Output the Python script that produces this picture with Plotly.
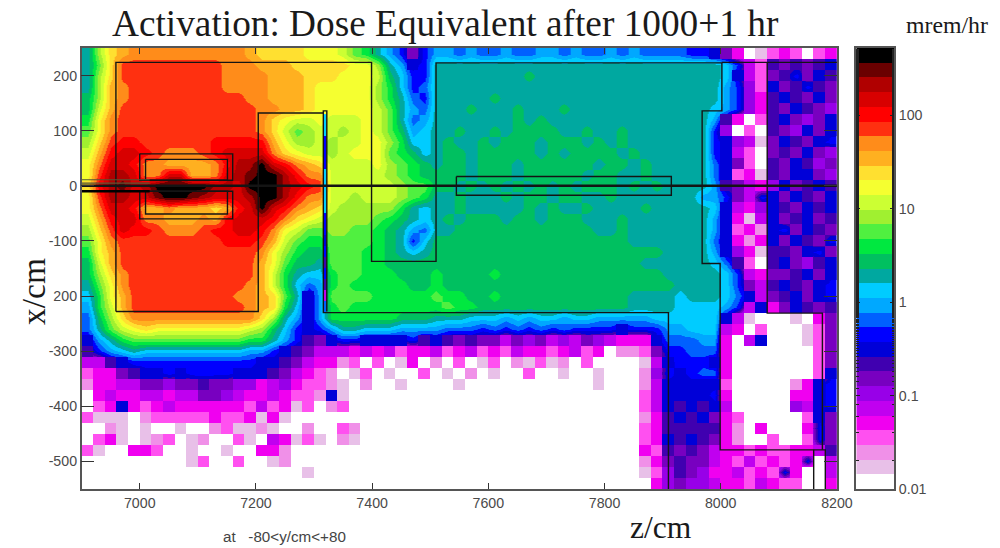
import plotly.graph_objects as go

# Colour bands of the dose scale, lowest to highest (0.01 ... ~500 mrem/hr)
BAND_COLORS = ["#ffffff","#e8c0e8","#f090e8","#ff50f0","#f000f0","#c000f0","#9800e8","#7800c0","#4000b0","#0000d8",
               "#0000ff","#0060ff","#00a8ff","#00ccff","#00a8a0","#00c060","#00e840","#50f040","#a0f030","#ccff33",
               "#f5ff30","#ffe030","#ffb020","#ff8c1a","#ff3010","#ff0000","#d80000","#b00000","#6a0000","#000000"]
BAND_KEYS = "0123456789abcdefghijklmnopqrst"
LOG_MIN, LOG_MAX = -2.0, 2.72

# Dose band: rows run x = +250 down to -550 in 20 cm steps,
# columns run z = 6900 to 8200 in 20 cm steps, grouped in fives.
DOSE_ROWS = [
"eilmn nnnnn nnnnm llllk kkjhg eca7a ccbcb bcbbc cbcbb cbcbb bbaa9 74013 43034",
"ehloo ooooo oonnn mmmll lllkk iec9a eeeee eeeee eeeee eeeee eeeee da538 78789",
"eiloo ooooo oonnn nmmml llkkk jfdaa eeeee eeefe eeeee eeeee eeeee d9537 8a798",
"eimno ooooo oonnn nmmml kkkkk igdab eeeee eeeee eeeee eeeee eeeee ca639 78a87",
"fimno ooooo oooon nmmml kkkkk igeba eeeee feeee eeeee eeeee eeeee ca648 98797",
"fjmoo ooooo ooooo nnmml kkkkk jhecb eeefe eefee efeee eeeee eeeed ca648 79876",
"gknoo ooooo ooooo nlkjj kjjjk jhebc eeeee eefef eeeee eeeee eeeec 84038 97679",
"hknoo ooooo ooooo nljhi jjijk jhfcd eefee fefff feefe efeee eeeea 60308 76979",
"ilopp ooooo opppp pmkii jijjk kigdd efeef efffe fffef efeee eeeea 96517 9879a",
"jmpqq ponnn opqqq qnlkj jijkk khgfd effef ffffe fefff fefee eeeea 95307 87976",
"knqqp nnmmm mnprr tqpnm ljjjj kihgf effef ffeff ffffe ffefe eeeeb 97308 79867",
"korrq nnqqm mnqrs ttrpn njjjj jihgf fffef ffeff fffef feefe eeeeb 93418 79976",
"lprsq rtttt trrqt ttrqp ojjjj jjihh ffefe fefef efeff fefef eeeec 87546 97898",
"korrq qstts rqqqr ttrpn njjij jjihg eefee efeff effee feeee eeecc a75a9 79879",
"knqqp mmnmm mlmpq tqpnm ljiii iiged eefee eeefe feefe eeefe eeeed 95469 87989",
"jmpqq nnmmm nmpqq qpnlk jiiii hgfed efeff feffe fffee efeee eeeec 94159 78978",
"iloqp ponnn oppqq pnkjh hiihh gfecb eefff fffff ffffe efeee eeeec 93429 a7987",
"hknoo ooooo ooppp omjhg ghhhh gfead fffff fffff fffff ffeee eeeeb 94249 7987a",
"gkmoo ooooo ooooo nkigf fhhhg gfede fffff fffff fffff fffff eeeec 96418 879a7",
"fjmoo ooooo ooooo mkhff ehhhg gffff fffff fffff fffff fffee eeeed b8308 97689",
"filno ooooo ooooo mjged dghhg ggfff gffff gffff fffff fffff eeeee da547 78979",
"ehkno ooooo oooon mjgdb cghgg gggff gffff fffff fffff fffff feeee da758 9879a",
"dgkmo ooooo ooonn mlhe9 chhhh ggggg hggff gffff fffff ffeee edeee db957 8979a",
"cgjmo ooooo oooon mlgd9 cghgg ggggg ghggf fffff fffff ffeee edddd ca594 79878",
"bfiln nnnnn nnnnn liec9 cgggg ggfff eeedd dcdcd dcddc ccccd ddddd 95100 01047",
"behjk lkkkk kkkkj ifda9 aceed ddccc cbbba babab abaaa a9aaa ccddd 54030 00137",
"9cegh hhhhh hhhhg geca8 79aa9 999a8 98787 75767 56576 54449 bbbcc 40590 00137",
"8acde ddddd ddddc ca987 55545 45344 53453 43544 34534 02237 aabbb 40000 00037",
"5589a aaaaa aaaaa 99875 44230 30140 20301 30213 12030 00015 9aaa9 40000 00037",
"34478 99a9a aaa99 98754 32013 01003 01020 10030 01001 00026 a9abb 40000 00039",
"24455 77677 87766 45643 32102 00100 00100 00000 00001 00025 99999 30000 0249a",
"04544 55455 77654 45433 29100 00000 00000 00000 00000 00035 9999a 40000 0449a",
"03494 34544 44443 53413 02300 00000 00000 00000 00000 00035 98989 50000 0659a",
"31110 23333 34334 14100 00000 00000 00000 00000 00000 00024 89897 43000 00397",
"00210 10010 02311 21002 00320 00000 00000 00000 00000 00034 88888 42040 004a7",
"03410 12301 20031 05413 10210 00000 00000 00000 00000 00034 98987 42003 003a7",
"31004 43001 00100 44200 00000 00000 00000 00000 00000 00043 87875 44343 34458",
"00000 00001 30030 01200 00000 00000 00000 00000 00000 00024 78775 43534 34a05",
"00000 00000 00000 00001 00000 00000 00000 00000 00000 00013 68764 45343 a4005",
"00000 00000 00000 00000 00000 00000 00000 00000 00000 00004 67665 44354 33004",
]

# Dose band in the narrow gap between the two walls near z = 7320 (top to bottom)
GAP_ROWS = "ddaaaddddaa9a8a85b"

# Geometry outlines (z/cm, x/cm)
MAIN_Z = [6959,6959,7399,7399,7510,7510,8002,8002,7968,7968,7999,7999,8180,8180]
MAIN_X = [-228,224,224,-137,-137,223,223,136,136,-141,-141,-479,-479,-550]
INNER_Z = [6959,7204,7204,7316,7316,7322,7322]
INNER_X = [-228,-228,132,132,136,136,-228]
WALL_Z = [7316,7316,7910,7910]
WALL_X = [132,-230,-230,-550]
ROOM_Z = [8002,8200,None,8080,8080,8175,8175,None,8160,8160]
ROOM_X = [224,224,None,224,-231,-231,-479,None,-479,-550]
BOX_Z = [7000,7160,7160,7000,7000,None,7000,7160,7160,7000,7000,None,7010,7151,7151,7010,7010,None,7010,7151,7151,7010,7010,None,7545,7915,7915,7545,7545]
BOX_X = [58,58,10,10,58,None,-10,-10,-60,-60,-10,None,48,48,10,10,48,None,-10,-10,-51,-51,-10,None,17,17,-17,-17,17]
BEAM_Z = [6900,8200]
BEAM_X = [0,0]
PIPE_Z = [6900,7017,None,6900,7017]
PIPE_X = [11,11,None,5,5]
PIPE_DARK_Z = [6900,7017]
PIPE_DARK_X = [-10,-10]

X_TICKS = [7000,7200,7400,7600,7800,8000,8200]
Y_TICKS = [200,100,0,-100,-200,-300,-400,-500]
Y_LABELS = ["200","100","0","-100","200","-300","-400","-500"]
BAR_TICKS = [0.01,0.1,1,10,100]
BAR_LABELS = ["0.01","0.1","1","10","100"]

n_bands = len(BAND_COLORS)
step = (LOG_MAX - LOG_MIN) / n_bands

def to_level(ch):
    return LOG_MIN + (BAND_KEYS.index(ch.lower()) + 0.5) * step

rows = []
speckle = []          # low-dose, noisy cells stay as separate blocks
for r in DOSE_ROWS:
    text = r.replace(" ", "")
    assert len(text) == 65, r
    rows.append([to_level(c) for c in text])
    speckle.append([to_level(c) if BAND_KEYS.index(c) <= 9 else None for c in text])

colorscale = []
for i, c in enumerate(BAND_COLORS):
    colorscale += [[i / n_bands, c], [(i + 1) / n_bands, c]]

z_mid = [6910 + 20 * i for i in range(65)]
x_mid = [240 - 20 * j for j in range(40)]
x_edges = [250 - 20 * j for j in range(41)]

fig = go.Figure()
common = dict(colorscale=colorscale, zmin=LOG_MIN, zmax=LOG_MAX, showscale=False, hoverinfo="skip")
fig.add_trace(go.Heatmap(z=rows, x=z_mid, y=x_mid, zsmooth="best", **common))
fig.add_trace(go.Heatmap(z=speckle, x=z_mid, y=x_mid, hoverongaps=False, **common))
fig.add_trace(go.Heatmap(z=[[to_level(c)] for c in GAP_ROWS], x=[7316, 7322],
                         y=x_edges[6:25], **common))
# colour key, drawn on its own logarithmic axis
fig.add_trace(go.Heatmap(z=[[LOG_MIN + (i + 0.5) * step] for i in range(n_bands)], x=[0, 1],
                         y=[10 ** (LOG_MIN + i * step) for i in range(n_bands + 1)],
                         xaxis="x2", yaxis="y2", **common))

line = dict(color="#141414", width=1.4)
for zs, xs, ln in [(MAIN_Z, MAIN_X, line), (INNER_Z, INNER_X, line), (WALL_Z, WALL_X, line),
                   (ROOM_Z, ROOM_X, line), (BOX_Z, BOX_X, line),
                   (BEAM_Z, BEAM_X, dict(color="#141414", width=2.6)),
                   (PIPE_Z, PIPE_X, dict(color="#555533", width=1.2)),
                   (PIPE_DARK_Z, PIPE_DARK_X, dict(color="#000000", width=2.6))]:
    fig.add_trace(go.Scatter(x=zs, y=xs, mode="lines", line=ln, showlegend=False, hoverinfo="skip"))

W, H = 1000, 548          # reference picture, used for placing things
PAGE_W, PAGE_H = 1014, 556
tick_font = dict(family="Liberation Sans, Arial, sans-serif", size=14.2, color="#4a4a4a")
axis_line = dict(showline=True, linecolor="#555555", linewidth=1.5, mirror="ticks", showgrid=False,
                 zeroline=False, tickcolor="#333333", tickwidth=1, tickfont=tick_font, ticks="inside")
dom_y = [(H - 489) / H, (H - 48) / H]

def note(text, px, py, size, family="Liberation Serif, serif", color="#1a1a1a", angle=0):
    return dict(text=text, x=px / W, y=(H - py) / H, xref="paper", yref="paper", showarrow=False,
                xanchor="center", yanchor="middle", textangle=angle, font=dict(family=family, size=size, color=color))

fig.update_layout(
    width=PAGE_W, height=PAGE_H, margin=dict(l=0, r=0, t=0, b=0), paper_bgcolor="white", plot_bgcolor="white",
    showlegend=False,
    xaxis=dict(domain=[81.8 / W, 838.6 / W], range=[6900, 8200], tickvals=X_TICKS, ticklen=6, **axis_line),
    yaxis=dict(domain=dom_y, range=[-550, 250], tickvals=Y_TICKS, ticktext=Y_LABELS, ticklen=13, **axis_line),
    xaxis2=dict(domain=[858 / W, 896 / W], range=[0, 1], anchor="y2", showticklabels=False, ticks="",
                showgrid=False, zeroline=False, showline=True, linecolor="#555555", linewidth=1.5, mirror=True),
    yaxis2=dict(domain=dom_y, type="log", range=[LOG_MIN, LOG_MAX], anchor="x2", side="right",
                tickvals=BAR_TICKS, ticktext=BAR_LABELS, ticklen=4, ticks="inside", tickcolor="#222222",
                tickfont=tick_font, showgrid=False, zeroline=False, showline=True, linecolor="#555555",
                linewidth=1.5, mirror="ticks",
                minor=dict(ticks="inside", ticklen=2.5, tickcolor="#222222", showgrid=False)),
    annotations=[
        note("Activation: Dose Equivalent after 1000+1 hr", 446, 24, 37.3),
        note("mrem/hr", 949, 25, 23.8),
        note("z/cm", 662, 527, 31.5),
        note("x/cm", 33, 291, 33.5, angle=-90),
        note("at&nbsp;&nbsp;&nbsp;-80&lt;y/cm&lt;+80", 285, 536, 15.2, family="Liberation Sans, sans-serif", color="#444444"),
    ],
)
fig.write_html("out.html", config={"displayModeBar": False}, post_script="document.body.style.margin='0';")
